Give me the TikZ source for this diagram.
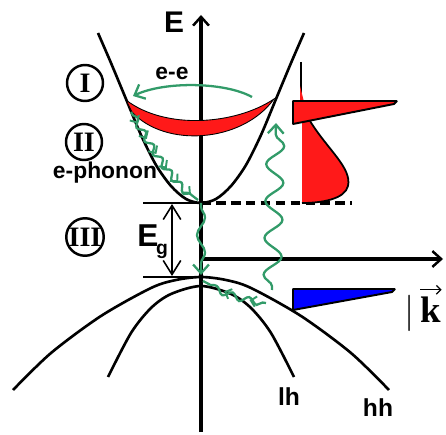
\documentclass[tikz,border=0pt]{standalone}
\usepackage{fontspec}
\setmainfont{Liberation Serif}
\setsansfont{Liberation Sans}
\usepackage{tikz}
\usetikzlibrary{
arrows.meta,
decorations.pathmorphing,
decorations.markings
}
\definecolor{relaxgreen}{RGB}{50,155,105}
\definecolor{elecred}{RGB}{255,25,25}
\definecolor{holeblue}{RGB}{0,0,255}

\begin{document}
\begin{tikzpicture}[x=0.02cm, y=-0.02cm,
  band/.style={line width=1.5pt, line join=round},
  axis/.style={line width=1.9pt, -{Straight Barb[length=5pt,width=9pt,line width=1.4pt]}},
  label/.style={font=\sffamily\bfseries\fontsize{13}{15}\selectfont, inner sep=0pt},
  numeral/.style={draw, circle, line width=1.4pt, minimum size=0.72cm, inner sep=0pt,
                  font=\bfseries\fontsize{16}{16}\selectfont},
  relax/.style={draw=relaxgreen, line width=1.3pt},
  wave/.style={decorate, decoration={snake, amplitude=#1, segment length=21pt,
               pre length=2pt, post length=4pt}},
  tip/.style={-{Straight Barb[length=5pt,width=9pt]}},
  wedge/.style={draw=black, line width=1.1pt, line join=bevel}
]
\useasboundingbox (0,0) rectangle (446,435);

%% Axes
\coordinate (origin) at (201,259);
\draw[axis] (201,432) -- (201,15);
\draw[axis] (origin) -- (443,259);
\node[label, font=\sffamily\bfseries\fontsize{17}{17}\selectfont] (Eaxis) at (174,22) {E};
\node[inner sep=0pt, font=\fontsize{20}{20}\selectfont] (kbar) at (410,313) {$|$};
\node[inner sep=0pt, font=\bfseries\fontsize{21}{21}\selectfont] (kaxis) at (431,310) {k};
\draw[line width=0.7pt, -{Straight Barb[length=2.5pt,width=5pt]}]
  ([yshift=4pt]kaxis.north west) -- ([yshift=4pt]kaxis.north east);

%% Conduction band
\draw[band] plot[smooth] coordinates {(98,33) (111,63) (126,99) (141,135) (156,165)
  (171,186) (186,199) (201,203) (216,199) (231,186) (246,165) (261,135) (276,99)
  (291,63) (304,33)};
\coordinate (CBmin) at (201,203);

%% Valence bands: heavy and light holes
\draw[band] plot[smooth] coordinates {(13,390) (51,353) (101,316) (151,288) (176,280)
  (201,277) (226,280) (251,288) (301,316) (351,353) (389,390)};
\draw[band] plot[smooth] coordinates {(108,377) (131,333) (151,308) (171,294)
  (201,286) (231,294) (251,308) (271,333) (294,377)};
\coordinate (VBtop) at (201,277);
\node[label, font=\sffamily\bfseries\fontsize{14}{14}\selectfont] (lh) at (289,397) {lh};
\node[label, font=\sffamily\bfseries\fontsize{14}{14}\selectfont] (hh) at (378,408) {hh};

%% Band gap
\coordinate (gapL) at (143,203);
\coordinate (vbL) at (143,277);
\coordinate (dashR) at (352,203);
\draw[line width=1.6pt] (gapL) -- (CBmin);
\draw[line width=1.6pt] (vbL) -- (VBtop);
\draw[line width=1.8pt, dash pattern=on 5.5pt off 3pt] (CBmin) -- (dashR);
\draw[line width=0.9pt, {Straight Barb[length=8pt,width=10pt]}-{Straight Barb[length=8pt,width=10pt]}]
  (172,204) -- (172,276);
\node[label, font=\sffamily\bfseries\fontsize{18}{18}\selectfont] (Eg) at (148,236) {E};
\node[label, font=\sffamily\bfseries\fontsize{11}{11}\selectfont] (g) at (162,251) {g};

%% Hot electrons in the conduction band
\filldraw[fill=elecred, draw=black, line width=0.5pt]
  (126,100) .. controls (165,130) and (235,125) .. (274,99)
  .. controls (242,143) and (165,148) .. (132,112) -- cycle;

%% Hole distribution
\filldraw[wedge, fill=holeblue] (293,310) -- (293,289) -- (395,289) -- (392,292) -- cycle;

%% Electron distribution
\draw[line width=0.8pt] (301,62) -- (301,102);
\fill[elecred] (300,86) -- (304,102) -- (300,102) -- cycle;
\fill[elecred] (302,118) -- (310,121) .. controls (328,150) and (352,168) .. (348,186)
  .. controls (345,199) and (322,203) .. (302,203) -- cycle;
\draw[line width=1pt] (310,121) .. controls (328,150) and (352,168) .. (348,186)
  .. controls (345,199) and (322,203) .. (302,203);
\filldraw[wedge, fill=elecred] (293,124) -- (293,101) -- (397,101) -- (394,104) -- cycle;

%% Relaxation processes
\draw[relax, tip] (252,97) .. controls (225,82) and (165,81) .. (133,96);
\node[label] (ee) at (172,73) {e-e};

\draw[relax, wave=1.8pt, decoration={segment length=9pt}] (131,112) .. controls (150,145) and (170,180) .. (198,200);
\path[decorate, decoration={markings,
  mark=between positions 0.12 and 0.99 step 0.16 with {\arrow[relaxgreen, line width=1.1pt]{Straight Barb[length=3pt,width=6pt]}}}]
  (131,112) .. controls (150,145) and (170,180) .. (198,200);
\node[label] (phonon) at (105,173) {e-phonon};

\draw[relax, tip, wave=2.3pt, decoration={segment length=20pt}] (CBmin) -- (201,275);

\draw[relax, wave=1.8pt, decoration={segment length=10pt}] (266,303) .. controls (240,300) and (220,290) .. (203,281);
\path[decorate, decoration={markings,
  mark=between positions 0.25 and 0.8 step 0.4 with {\arrow[relaxgreen, line width=1.1pt]{Straight Barb[length=3pt,width=6pt]}}}]
  (266,303) .. controls (240,300) and (220,290) .. (203,281);

%% Optical excitation
\draw[relax, tip, wave=5pt] (272,290) -- (276,123);

%% Regions
\node[numeral] (one) at (85,83) {I};
\node[numeral] (two) at (84,142) {II};
\node[numeral] (three) at (85,237) {III};
\end{tikzpicture}
\end{document}
